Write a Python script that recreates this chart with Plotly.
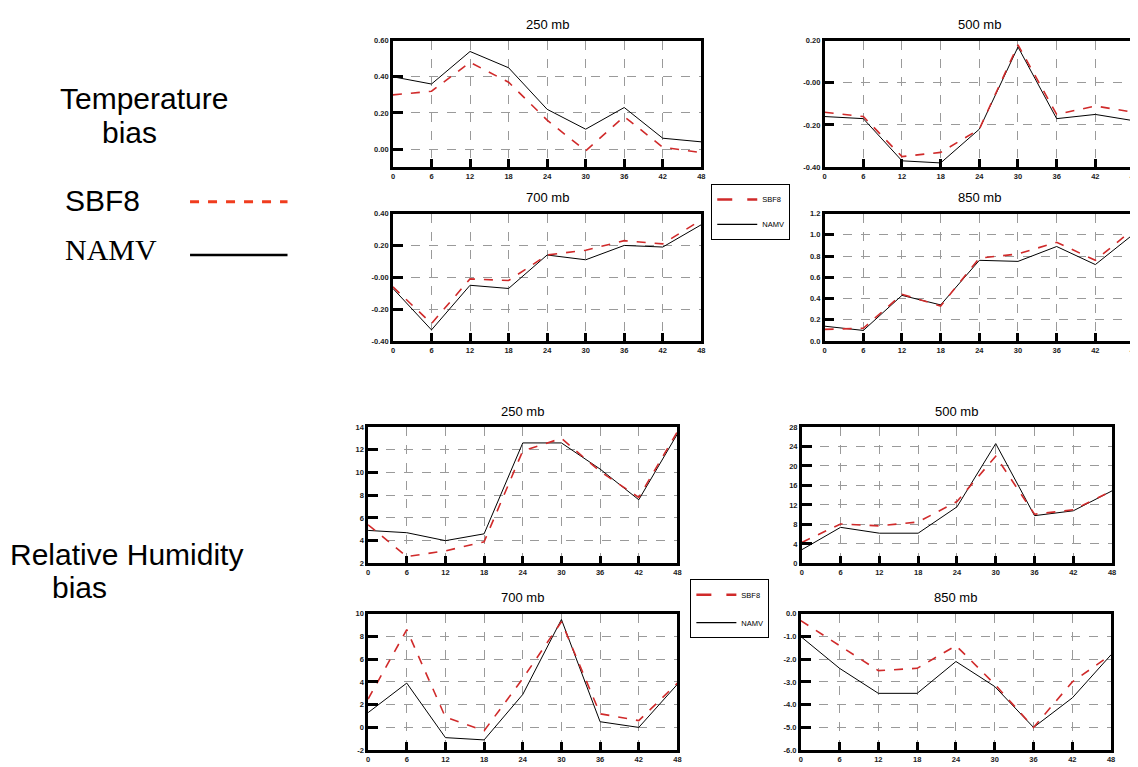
import plotly.graph_objects as go

# The page body has an 8px margin; the figure is sized/offset to compensate
W, H = 1138, 767
OX, OY = 8, 8
FW, FH = W - OX, H - OY

# ---------------- data ----------------
hours = [0, 6, 12, 18, 24, 30, 36, 42, 48]
hour_labels = ["0", "6", "12", "18", "24", "30", "36", "42", "48"]

# Temperature bias
t250_sbf8 = [0.30, 0.32, 0.48, 0.37, 0.16, -0.01, 0.18, 0.01, -0.02]
t250_namv = [0.40, 0.36, 0.54, 0.45, 0.22, 0.11, 0.23, 0.06, 0.04]
t500_sbf8 = [-0.14, -0.16, -0.35, -0.33, -0.22, 0.18, -0.15, -0.11, -0.14]
t500_namv = [-0.16, -0.17, -0.37, -0.38, -0.22, 0.17, -0.17, -0.15, -0.18]
t700_sbf8 = [-0.06, -0.29, -0.01, -0.02, 0.14, 0.17, 0.23, 0.21, 0.36]
t700_namv = [-0.07, -0.33, -0.05, -0.07, 0.14, 0.11, 0.20, 0.19, 0.33]
t850_sbf8 = [0.11, 0.12, 0.44, 0.33, 0.78, 0.82, 0.93, 0.76, 1.06]
t850_namv = [0.14, 0.10, 0.43, 0.34, 0.76, 0.75, 0.89, 0.72, 1.01]

# Relative humidity bias
rh250_sbf8 = [5.4, 2.6, 3.1, 3.9, 11.9, 13.0, 10.1, 7.8, 13.6]
rh250_namv = [4.9, 4.7, 4.0, 4.6, 12.6, 12.6, 10.3, 7.6, 13.4]
rh500_sbf8 = [4.3, 8.1, 7.7, 8.5, 12.7, 22.0, 10.1, 11.0, 14.9]
rh500_namv = [2.8, 7.4, 6.2, 6.2, 11.6, 24.6, 9.8, 10.8, 14.9]
rh700_sbf8 = [2.5, 8.6, 0.9, -0.3, 4.3, 9.3, 1.2, 0.6, 3.9]
rh700_namv = [1.3, 3.9, -0.9, -1.1, 2.9, 9.5, 0.5, 0.0, 3.8]
rh850_sbf8 = [-0.3, -1.4, -2.5, -2.4, -1.4, -3.1, -5.0, -3.0, -1.8]
rh850_namv = [-1.0, -2.4, -3.5, -3.5, -2.1, -3.2, -5.0, -3.7, -1.8]

# y tick values / labels
t250_yticks = [0.0, 0.2, 0.4, 0.6]
t250_ylabels = ["0.00", "0.20", "0.40", "0.60"]
t500_yticks = [-0.4, -0.2, 0.0, 0.2]
t500_ylabels = ["-0.40", "-0.20", "-0.00", "0.20"]
t700_yticks = [-0.4, -0.2, 0.0, 0.2, 0.4]
t700_ylabels = ["-0.40", "-0.20", "-0.00", "0.20", "0.40"]
t850_yticks = [0.0, 0.2, 0.4, 0.6, 0.8, 1.0, 1.2]
t850_ylabels = ["0.0", "0.2", "0.4", "0.6", "0.8", "1.0", "1.2"]
rh250_yticks = [2, 4, 6, 8, 10, 12, 14]
rh250_ylabels = ["2", "4", "6", "8", "10", "12", "14"]
rh500_yticks = [0, 4, 8, 12, 16, 20, 24, 28]
rh500_ylabels = ["0", "4", "8", "12", "16", "20", "24", "28"]
rh700_yticks = [-2, 0, 2, 4, 6, 8, 10]
rh700_ylabels = ["-2", "0", "2", "4", "6", "8", "10"]
rh850_yticks = [-6, -5, -4, -3, -2, -1, 0]
rh850_ylabels = ["-6.0", "-5.0", "-4.0", "-3.0", "-2.0", "-1.0", "0.0"]

series_names = ["SBF8", "NAMV"]


def px(x):
    return (x - OX) / FW


def py(y):
    return 1 - (y - OY) / FH


# ---------------- layout of panels (pixel boxes in the screenshot) ----------------
panels = [
    dict(title="250 mb", box=(393, 37, 703, 165), s=t250_sbf8, n=t250_namv,
         yr=[-0.1, 0.6], yt=t250_yticks, yl=t250_ylabels),
    dict(title="500 mb", box=(827, 37, 1138, 165), s=t500_sbf8, n=t500_namv,
         yr=[-0.4, 0.2], yt=t500_yticks, yl=t500_ylabels),
    dict(title="700 mb", box=(393, 212, 703, 341), s=t700_sbf8, n=t700_namv,
         yr=[-0.4, 0.4], yt=t700_yticks, yl=t700_ylabels),
    dict(title="850 mb", box=(827, 212, 1138, 341), s=t850_sbf8, n=t850_namv,
         yr=[0.0, 1.2], yt=t850_yticks, yl=t850_ylabels),
    dict(title="250 mb", box=(368, 428, 679, 566), s=rh250_sbf8, n=rh250_namv,
         yr=[2, 14], yt=rh250_yticks, yl=rh250_ylabels),
    dict(title="500 mb", box=(804, 428, 1116, 566), s=rh500_sbf8, n=rh500_namv,
         yr=[0, 28], yt=rh500_yticks, yl=rh500_ylabels),
    dict(title="700 mb", box=(368, 617, 679, 755), s=rh700_sbf8, n=rh700_namv,
         yr=[-2, 10], yt=rh700_yticks, yl=rh700_ylabels),
    dict(title="850 mb", box=(803, 617, 1115, 755), s=rh850_sbf8, n=rh850_namv,
         yr=[-6, 0], yt=rh850_yticks, yl=rh850_ylabels),
]

RED = "#d02a2a"
TICKFONT = dict(family="Liberation Sans, Arial", size=7.5, color="#1a1a1a", weight="bold")

fig = go.Figure()
annotations = []
shapes = []

for i, p in enumerate(panels):
    k = "" if i == 0 else str(i + 1)
    x0, y0, x1, y1 = p["box"]
    xd = [max(px(x0), 0), min(px(x1), 1.0)]
    yd = [max(py(y1), 0), min(py(y0), 1.0)]
    xref, yref = "x" + k, "y" + k
    fig.add_trace(go.Scatter(
        x=hours, y=p["n"], mode="lines", name=series_names[1], xaxis=xref, yaxis=yref,
        line=dict(color="black", width=1), showlegend=False))
    fig.add_trace(go.Scatter(
        x=hours, y=p["s"], mode="lines", name=series_names[0], xaxis=xref, yaxis=yref,
        line=dict(color=RED, width=1.6, dash="dash"), showlegend=False))
    axcommon = dict(showline=True, mirror=True, linecolor="black", linewidth=2.5,
                    tickwidth=2.5, tickcolor="black", ticks="inside",
                    showgrid=True, gridcolor="#9a9a9a", gridwidth=0.8, griddash="dash",
                    zeroline=False, tickfont=TICKFONT, ticklabeloverflow="allow")
    fig.update_layout(**{
        "xaxis" + k: dict(domain=xd, anchor=yref, range=[0, 48], tickmode="array",
                          tickvals=hours, ticktext=hour_labels, ticklen=8, **axcommon),
        "yaxis" + k: dict(domain=yd, anchor=xref, range=p["yr"], tickmode="array",
                          tickvals=p["yt"], ticktext=p["yl"], ticklen=10, **axcommon),
    })
    annotations.append(dict(text=p["title"], xref="paper", yref="paper",
                            x=(px(x0) + min(px(x1), 1.0)) / 2, y=py(y0 - 16),
                            xanchor="center", yanchor="middle", showarrow=False,
                            font=dict(family="Liberation Sans, Arial", size=13, color="black")))

# legend-only entries (one legend for each group of panels)
for leg in ["legend", "legend2"]:
    fig.add_trace(go.Scatter(x=[None], y=[None], mode="lines", name=series_names[0],
                             line=dict(color=RED, width=2.5, dash="longdash"),
                             legend=leg, legendgroup="a"))
    fig.add_trace(go.Scatter(x=[None], y=[None], mode="lines", name=series_names[1],
                             line=dict(color="black", width=1.2),
                             legend=leg, legendgroup="b"))

# left-hand descriptive text
BIG = dict(family="Liberation Sans, Arial", size=30, color="black")
SERIF = dict(family="Liberation Serif, Times New Roman", size=30, color="black")
left_texts = [
    ("Temperature", 56, 96, BIG),
    ("bias", 98, 130, BIG),
    ("SBF8", 61, 199, BIG),
    ("NAMV", 61, 248, SERIF),
    ("Relative Humidity", 6, 557, BIG),
    ("bias", 48, 590, BIG),
]
for t, tx, ty, f in left_texts:
    annotations.append(dict(text=t, xref="paper", yref="paper", x=px(tx), y=py(ty),
                            xanchor="left", yanchor="middle", showarrow=False, font=f))

shapes.append(dict(type="line", xref="paper", yref="paper", x0=px(189), x1=px(287),
                   y0=py(200), y1=py(200),
                   line=dict(color="#f03c1e", width=3, dash="dash")))
shapes.append(dict(type="line", xref="paper", yref="paper", x0=px(189), x1=px(287),
                   y0=py(254), y1=py(254), line=dict(color="black", width=2.5)))

legfont = dict(family="Liberation Sans, Arial", size=7.5, color="black")
fig.update_layout(
    width=FW, height=FH, margin=dict(l=0, r=0, t=0, b=0),
    paper_bgcolor="white", plot_bgcolor="white",
    annotations=annotations, shapes=shapes,
    legend=dict(x=px(713), y=py(182), xanchor="left", yanchor="top",
                bordercolor="black", borderwidth=1, bgcolor="white", font=legfont,
                traceorder="grouped", tracegroupgap=6, itemwidth=40),
    legend2=dict(x=px(692), y=py(582), xanchor="left", yanchor="top",
                 bordercolor="black", borderwidth=1, bgcolor="white", font=legfont,
                 traceorder="grouped", tracegroupgap=9, itemwidth=40),
)

fig.write_html("out.html")
